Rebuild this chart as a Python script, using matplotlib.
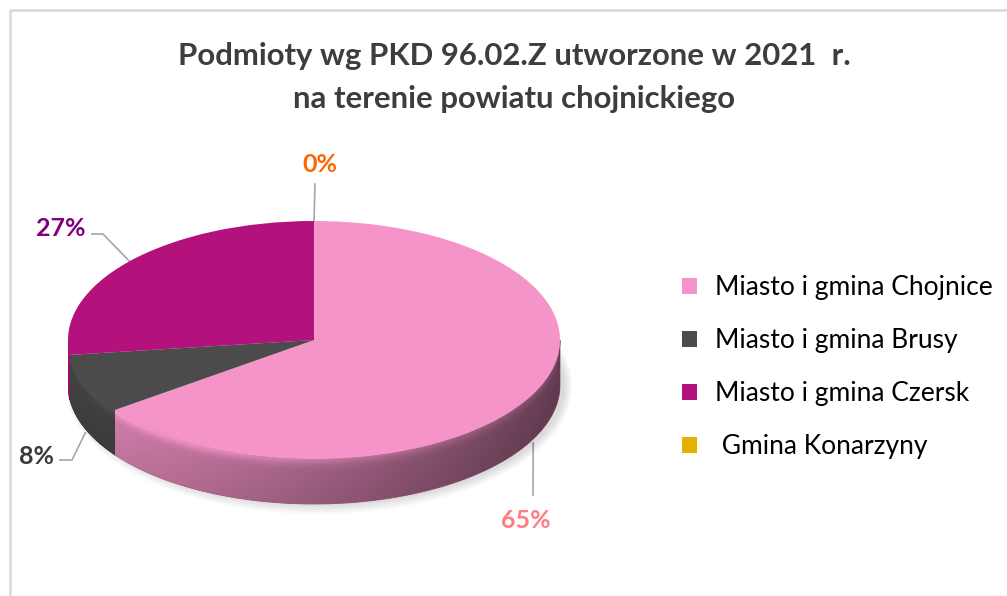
import numpy as np
import matplotlib.pyplot as plt
import matplotlib.colors as mcolors
from matplotlib.patches import Patch, Polygon, Ellipse

plt.rcParams['font.family'] = ['Lato', 'DejaVu Sans']

categories = ["Miasto i gmina Chojnice", "Miasto i gmina Brusy",
              "Miasto i gmina Czersk", " Gmina Konarzyny"]
shares = [65, 8, 27, 0]
pct_labels = ["65%", "8%", "27%", "0%"]

colors = ["#f594c8", "#4b4b4b", "#b3127c", "#e6b000"]
label_colors = ["#ff7c80", "#3a3a3a", "#800080", "#ff6600"]

# label text positions (pixels) and leader elbows
label_pos = [(526, 520), (37, 456), (61, 229), (320, 165)]
label_elbow = [[(533, 495)], [(60, 460), (72, 460)], [(92, 234), (103, 234)], [(315, 184)]]

W, H = 1007, 596
fig = plt.figure(figsize=(W / 100, H / 100), dpi=100)
base = fig.add_axes([0, 0, 1, 1])
base.set_xlim(0, W)
base.set_ylim(H, 0)
base.axis('off')

# chart frame (only top/left visible)
base.plot([10, 10, W + 5], [H + 5, 10, 10], color="#d9d9d9", lw=1.8)

base.text(514, 56, "Podmioty wg PKD 96.02.Z utworzone w 2021  r.", ha='center', va='center',
          fontsize=22.4, fontweight='bold', color='#3d3d3d')
base.text(514, 99, "na terenie powiatu chojnickiego", ha='center', va='center',
          fontsize=22.4, fontweight='bold', color='#3d3d3d')

# pie layout in pixels
cx, cy, rx, ry, depth = 314, 340, 246, 119, 45
pad = 12
dz = depth / ry
pie_ax = fig.add_axes([(cx - rx) / W, 1 - (cy + ry + depth + pad) / H,
                       (2 * rx + pad) / W, (2 * ry + depth + pad) / H])
pie_ax.axis('off')

# soft shadow
for k in range(6):
    pie_ax.add_patch(Ellipse((0.02, -dz - 0.01), 2.0 + 0.012 * k, 2.0 + 0.03 * k,
                             color='#000000', alpha=0.025, lw=0, zorder=0))

# side walls of the front half, shaded with a gradient image
nx, ny = 700, 220
gx = np.linspace(-1, 1, nx)
gy = np.linspace(0, -1 - dz, ny)
X, Y = np.meshgrid(gx, gy)
ytop = -np.sqrt(np.clip(1 - X ** 2, 0, 1))
Z = np.clip((ytop - Y) / dz, 0, 1)
shade_x = 0.66 - 0.24 * X
shade_z = np.where(Z < 0.3, 1 + 0.28 * (1 - Z / 0.3) ** 2, 1.0) * (1 - 0.08 * Z)

cum = np.concatenate([[0], np.cumsum(shares)]) / sum(shares)
for i, c in enumerate(colors):
    a0 = 90 - 360 * cum[i]
    a1 = 90 - 360 * cum[i + 1]
    lo, hi = max(a1, -180), min(a0, 0)
    if hi <= lo:
        continue
    t = np.radians(np.linspace(lo, hi, 200))
    verts = np.concatenate([np.c_[np.cos(t), np.sin(t)],
                            np.c_[np.cos(t[::-1]), np.sin(t[::-1]) - dz]])
    rgb = np.array(mcolors.to_rgb(c))
    mid_col = np.clip(rgb * 0.62, 0, 1)
    side = Polygon(verts, closed=True, facecolor=mid_col, edgecolor=mid_col, lw=0.6,
                   zorder=1, transform=pie_ax.transData)
    pie_ax.add_patch(side)
    img = np.clip(rgb[None, None, :] * (shade_x * shade_z)[:, :, None], 0, 1)
    im = pie_ax.imshow(img, extent=(-1, 1, -1 - dz, 0), origin='upper', aspect='auto',
                       interpolation='bilinear', zorder=1.5)
    im.set_clip_path(side)

wedges, _ = pie_ax.pie(shares, colors=colors, startangle=90, counterclock=False,
                       radius=1, center=(0, 0), wedgeprops=dict(linewidth=0))
for w in wedges:
    w.set_zorder(2)
pie_ax.set_aspect('auto')
pie_ax.set_xlim(-1, 1 + pad / rx)
pie_ax.set_ylim(-1 - dz - pad / ry, 1)

# data labels with leader lines
for i, txt in enumerate(pct_labels):
    mid = np.radians(90 - 360 * (cum[i] + cum[i + 1]) / 2)
    ax_x = cx + rx * np.cos(mid)
    ax_y = cy - ry * np.sin(mid)
    if np.sin(mid) < -0.05:
        ax_y += depth + 4
    pts = label_elbow[i] + [(ax_x, ax_y)]
    base.plot([p[0] for p in pts], [p[1] for p in pts], color='#a6a6a6', lw=1.2, zorder=3)
    base.text(label_pos[i][0], label_pos[i][1], txt, ha='center', va='center',
              fontsize=18, fontweight='bold', color=label_colors[i])

handles = [Patch(facecolor=c, edgecolor='none', label=l) for c, l in zip(colors, categories)]
fig.legend(handles=handles, loc='upper left', bbox_to_anchor=(682 / W, 1 - 275 / H),
           frameon=False, fontsize=19, handlelength=0.55, handleheight=0.55,
           handletextpad=0.7, labelspacing=1.06, borderpad=0, borderaxespad=0)

fig.savefig("out.png", dpi=100)
